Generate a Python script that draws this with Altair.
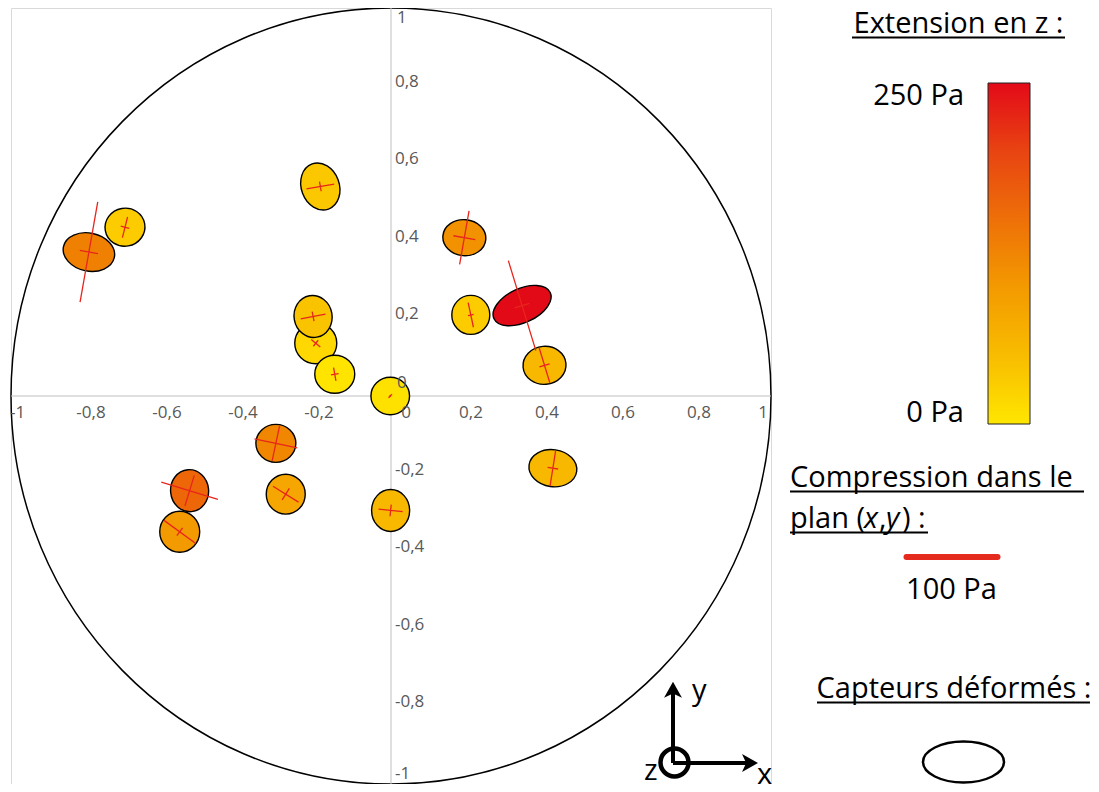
import altair as alt
import pandas as pd

# ---------------- data ----------------
# sensor centres (plane coordinates, unit circle)
sensor_x = [-0.795, -0.700, -0.186, -0.198, -0.205, -0.148, -0.002, 0.193, 0.210,
            0.345, 0.404, 0.426, -0.303, -0.530, -0.556, -0.277, -0.001]
sensor_y = [0.371, 0.435, 0.540, 0.136, 0.205, 0.056, 0.000, 0.408, 0.209,
            0.233, 0.079, -0.186, -0.122, -0.244, -0.350, -0.253, -0.295]
# deformed sensor ellipses: semi-axes (same units as x) and major-axis angle (deg, CCW)
semi_major = [0.0684, 0.0526, 0.0632, 0.0553, 0.0553, 0.0526, 0.0508, 0.0566, 0.0513,
              0.0816, 0.0566, 0.0632, 0.0526, 0.0553, 0.0539, 0.0526, 0.0553]
semi_minor = [0.0500, 0.0500, 0.0500, 0.0539, 0.0500, 0.0500, 0.0492, 0.0474, 0.0500,
              0.0447, 0.0500, 0.0487, 0.0500, 0.0500, 0.0526, 0.0513, 0.0500]
major_angle = [-12, 10, 110, 0, 100, 0, 0, -5, 90, 25, 5, -8, 0, 95, 90, 90, 90]
# extension in z (Pa)
extension_pa = [132, 31, 36, 17, 42, 2, 6, 110, 31, 250, 56, 56, 123, 161, 100, 82, 56]
# compression in the (x,y) plane: main arm, second arm (Pa) and main-arm angle (deg, CCW)
comp_main_pa = [105, 22, 29, 12, 26, 14, 5, 56, 26, 97, 38, 37, 45, 61, 40, 31, 25]
comp_second_pa = [19, 9, 10, 8, 10, 8, 2, 23, 6, 16, 11, 11, 37, 33, 10, 14, 12]
comp_angle = [80, 76, 10, -39, 11, 100, 45, 80, 102, 107, 107, 81, -12, -17, -36, -32, -6]

# colour scale (Pa -> colour)
color_domain = [0, 50, 100, 150, 200, 250]
color_range = ["#FFE600", "#F8BC00", "#F39A00", "#EE7008", "#E84412", "#E30A18"]

# axis ticks
tick_values = [-1, -0.8, -0.6, -0.4, -0.2, 0, 0.2, 0.4, 0.6, 0.8, 1]
tick_labels = ["-1", "-0,8", "-0,6", "-0,4", "-0,2", "0", "0,2", "0,4", "0,6", "0,8", "1"]

# legend texts
legend_title_ext = "Extension en z :"
legend_max = "250 Pa"
legend_min = "0 Pa"
legend_title_comp1 = "Compression dans le"
legend_title_comp2 = ["plan (", "x", ",", "y", ") :"]
legend_comp_ref_pa = 100
legend_comp_label = "100 Pa"
legend_title_sensor = "Capteurs déformés :"

# ---------------- layout constants ----------------
W, H = 760, 776          # plot area
X0, Y0 = 11, 8           # page offset of the plot area
PX_PER_PA = 0.97         # length of compression arms
FONT = "Open Sans"
LFS = 29                 # legend font size
KAPPA = 0.5523


def ellipse_path(k):
    c = KAPPA
    return (f"M -1,0 C -1,{-c*k:.4f} {-c:.4f},{-k:.4f} 0,{-k:.4f} "
            f"C {c:.4f},{-k:.4f} 1,{-c*k:.4f} 1,0 "
            f"C 1,{c*k:.4f} {c:.4f},{k:.4f} 0,{k:.4f} "
            f"C {-c:.4f},{k:.4f} -1,{c*k:.4f} -1,0 Z")


def cross_path(k):
    return f"M -1,0 L 1,0 M 0,{-k:.4f} L 0,{k:.4f}"


sensors = pd.DataFrame({
    "x": sensor_x, "y": sensor_y, "a": semi_major, "b": semi_minor,
    "phi": major_angle, "ext": extension_pa,
    "L1": comp_main_pa, "L2": comp_second_pa, "psi": comp_angle,
})
sensors["path"] = [ellipse_path(b / a) for a, b in zip(semi_major, semi_minor)]
sensors["rot"] = [(360 - p) % 360 for p in major_angle]
sensors["cpath"] = [cross_path(s / m) for m, s in zip(comp_main_pa, comp_second_pa)]
sensors["crot"] = [(360 - p) % 360 for p in comp_angle]

ticks = pd.DataFrame({"v": tick_values, "label": tick_labels})
one = pd.DataFrame({"k": [0]})

xs = alt.Scale(domain=[-1, 1], nice=False, zero=False)
ys = alt.Scale(domain=[-1, 1], nice=False, zero=False)
grid_axis = dict(values=tick_values, grid=True, gridColor="#D9D9D9", gridWidth=1,
                 labels=False, ticks=False, domain=False, title=None)

# unit circle
circle = alt.Chart(pd.DataFrame({"x": [0], "y": [0], "r": [1]})).mark_point(
    shape=ellipse_path(H / W), filled=False, stroke="black", strokeWidth=1.5, opacity=1
).encode(
    x=alt.X("x:Q", scale=xs, axis=alt.Axis(**grid_axis)),
    y=alt.Y("y:Q", scale=ys, axis=alt.Axis(**grid_axis)),
    size=alt.Size("r:Q", scale=alt.Scale(type="pow", exponent=2, domain=[0, 1],
                                         range=[0, W * W], nice=False), legend=None),
)

zero_v = alt.Chart(pd.DataFrame({"v": [0]})).mark_rule(color="#BFBFBF", strokeWidth=1).encode(
    x=alt.X("v:Q", scale=xs, axis=None))
zero_h = alt.Chart(pd.DataFrame({"v": [0]})).mark_rule(color="#BFBFBF", strokeWidth=1).encode(
    y=alt.Y("v:Q", scale=ys, axis=None))

ellipses = alt.Chart(sensors).mark_point(
    filled=True, stroke="black", strokeWidth=1.4, opacity=1
).encode(
    x=alt.X("x:Q", scale=xs, axis=None),
    y=alt.Y("y:Q", scale=ys, axis=None),
    shape=alt.Shape("path:N", scale=None),
    angle=alt.Angle("rot:Q", scale=None),
    size=alt.Size("a:Q", scale=alt.Scale(type="pow", exponent=2, domain=[0, 1],
                                         range=[0, W * W], nice=False), legend=None),
    fill=alt.Fill("ext:Q", scale=alt.Scale(domain=color_domain, range=color_range), legend=None),
)

crosses = alt.Chart(sensors).mark_point(
    filled=False, stroke="#E8251C", strokeWidth=1.3, opacity=1
).encode(
    x=alt.X("x:Q", scale=xs, axis=None),
    y=alt.Y("y:Q", scale=ys, axis=None),
    shape=alt.Shape("cpath:N", scale=None),
    angle=alt.Angle("crot:Q", scale=None),
    size=alt.Size("L1:Q", scale=alt.Scale(type="pow", exponent=2, domain=[0, 100],
                                          range=[0, (100 * PX_PER_PA) ** 2], nice=False),
                  legend=None),
)

lab_style = dict(font=FONT, fontSize=17, color="#595959")


def xlab(filt, align, dx):
    return alt.Chart(ticks).transform_filter(filt).mark_text(
        align=align, baseline="middle", dx=dx, dy=17, **lab_style
    ).encode(x=alt.X("v:Q", scale=xs, axis=None), y=alt.value(H / 2), text="label:N")


def ylab(filt, dx, dy):
    return alt.Chart(ticks).transform_filter(filt).mark_text(
        align="left", baseline="middle", dx=dx, dy=dy, **lab_style
    ).encode(y=alt.Y("v:Q", scale=ys, axis=None), x=alt.value(W / 2), text="label:N")


x_labels = [
    xlab("abs(datum.v) > 0.01 && abs(datum.v) < 0.99", "center", 4),
    xlab("abs(datum.v) < 0.01", "center", 15),
    xlab("datum.v < -0.99", "left", -1),
    xlab("datum.v > 0.99", "right", -3),
]
y_labels = [
    ylab("abs(datum.v) > 0.01 && abs(datum.v) < 0.99", 4, -4),
    ylab("abs(datum.v) < 0.01", 6, -13),
    ylab("datum.v > 0.99", 6, 10),
    ylab("datum.v < -0.99", 4, -10),
]


# ---------------- legend (outside the plot) ----------------
def txt(s, x, y, align="left", size=LFS, style="normal"):
    return alt.Chart(one).mark_text(
        text=s, align=align, baseline="alphabetic", font=FONT, fontSize=size,
        fontStyle=style, color="black"
    ).encode(x=alt.value(x - X0), y=alt.value(y - Y0))


def seg(x1, y1, x2, y2, color="black", width=1.8, cap="butt"):
    return alt.Chart(one).mark_rule(color=color, strokeWidth=width, strokeCap=cap).encode(
        x=alt.value(x1 - X0), y=alt.value(y1 - Y0), x2=alt.value(x2 - X0), y2=alt.value(y2 - Y0))


grad = alt.Gradient(
    gradient="linear",
    stops=[alt.GradientStop(color=c, offset=d / color_domain[-1])
           for d, c in zip(color_domain, color_range)],
    x1=0, x2=0, y1=1, y2=0,
)
colorbar = alt.Chart(one).mark_rect(fill=grad, stroke="#222222", strokeWidth=1).encode(
    x=alt.value(988 - X0), x2=alt.value(1030 - X0), y=alt.value(83 - Y0), y2=alt.value(424 - Y0))

ref_half = legend_comp_ref_pa * PX_PER_PA / 2
legend = [
    txt(legend_title_ext, 958.5, 33, align="center"),
    seg(852, 37.5, 1065, 37.5),
    txt(legend_max, 964, 105, align="right"),
    txt(legend_min, 964, 422, align="right"),
    colorbar,
    txt(legend_title_comp1, 790, 487),
    seg(790, 491.5, 1084, 491.5),
    txt(legend_title_comp2[0], 790, 528),
    txt(legend_title_comp2[1], 864, 528, style="italic"),
    txt(legend_title_comp2[2], 879, 528),
    txt(legend_title_comp2[3], 886, 528, style="italic"),
    txt(legend_title_comp2[4], 902, 528),
    seg(790, 532.5, 928, 532.5),
    seg(952 - ref_half + 3, 557, 952 + ref_half - 3, 557, color="#E52A1E", width=6, cap="round"),
    txt(legend_comp_label, 951.5, 599, align="center"),
    txt(legend_title_sensor, 954, 698, align="center"),
    seg(817, 702.5, 1090, 702.5),
    alt.Chart(one).mark_point(
        shape=ellipse_path(20.5 / 40.5), size=81 ** 2, filled=False,
        stroke="black", strokeWidth=2.5, opacity=1
    ).encode(x=alt.value(963.5 - X0), y=alt.value(762 - Y0)),
]

# axes glyph
arrow = "M 0,-1 L 0.87,0.55 L 0,0.15 L -0.87,0.55 Z"
glyph = [
    seg(673, 763, 673, 688, width=4),
    seg(673, 763, 751, 763, width=4),
    alt.Chart(one).mark_point(shape=arrow, size=424, filled=True, color="black", opacity=1).encode(
        x=alt.value(673 - X0), y=alt.value(692 - Y0)),
    alt.Chart(one).mark_point(shape=arrow, size=424, filled=True, color="black", opacity=1,
                              angle=90).encode(
        x=alt.value(747.7 - X0), y=alt.value(763 - Y0)),
    alt.Chart(one).mark_point(shape="circle", size=28 ** 2, filled=False, stroke="black",
                              strokeWidth=4.5, opacity=1).encode(
        x=alt.value(674.5 - X0), y=alt.value(762.5 - Y0)),
    txt("y", 692, 700),
    txt("z", 644, 780),
    txt("x", 757, 784),
]

chart = alt.layer(
    circle, zero_v, zero_h, ellipses, *x_labels, *y_labels, crosses, *legend, *glyph
).resolve_scale(size="independent").properties(
    width=W, height=H,
    autosize=alt.AutoSizeParams(type="none"),
    padding={"left": 3, "top": 0, "right": 320, "bottom": 0},
).configure_view(stroke="#D9D9D9", strokeWidth=1)

chart.save("out.html", embed_options={"renderer": "svg", "actions": False})
